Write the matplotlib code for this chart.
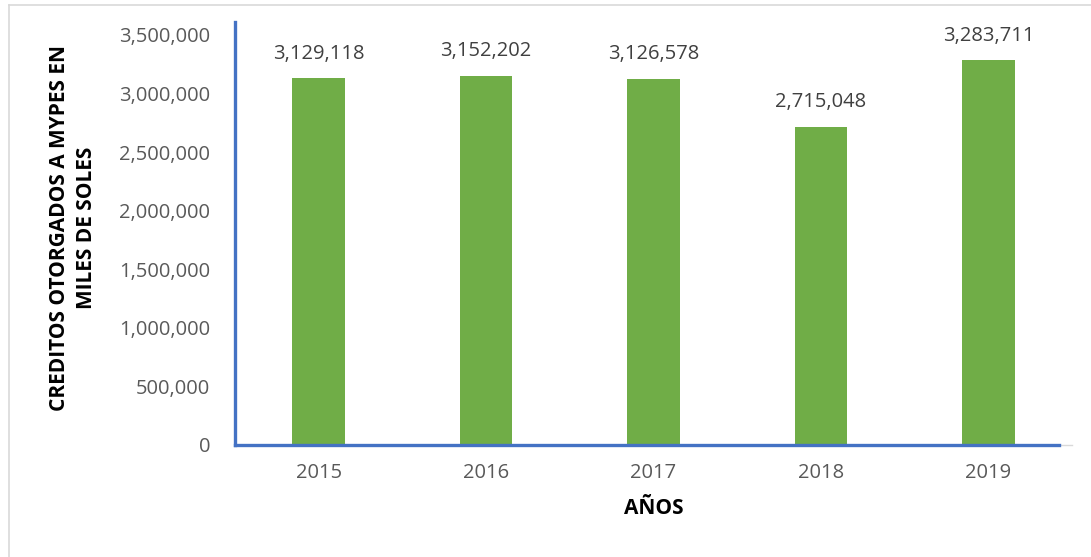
import matplotlib.pyplot as plt
from matplotlib.lines import Line2D
from matplotlib.ticker import FuncFormatter

years = ['2015', '2016', '2017', '2018', '2019']
creditos = [3129118, 3152202, 3126578, 2715048, 3283711]
y_ticks = [0, 500000, 1000000, 1500000, 2000000, 2500000, 3000000, 3500000]

BAR_GREEN = '#70AD47'
AXIS_BLUE = '#4472C4'
TICK_GREY = '#595959'

plt.rcParams['font.family'] = ['Open Sans', 'DejaVu Sans']

fig = plt.figure(figsize=(10.91, 5.57), dpi=100)
ax = fig.add_axes([0.2154, 0.2011, 0.7672, 0.7361])

x = range(len(years))
bars = ax.bar(x, creditos, width=0.315, color=BAR_GREEN, zorder=2)
for rect, val in zip(bars, creditos):
    ax.annotate(f'{val:,}', (rect.get_x() + rect.get_width() / 2, val),
                xytext=(0, 10.5), textcoords='offset points',
                ha='center', va='bottom', fontsize=14.5, color='#404040')

ax.set_xlim(-0.5, len(years) - 0.5)
ax.set_ylim(0, 3500000)
ax.set_yticks(y_ticks)
ax.yaxis.set_major_formatter(FuncFormatter(lambda v, p: f'{int(v):,}'))
ax.set_xticks(list(x))
ax.set_xticklabels(years)
ax.tick_params(axis='both', length=0, labelsize=14.5, labelcolor=TICK_GREY)
ax.tick_params(axis='x', pad=13)
ax.tick_params(axis='y', pad=18)

for side in ['top', 'right', 'left']:
    ax.spines[side].set_visible(False)
ax.spines['bottom'].set_color('#D9D9D9')
ax.spines['bottom'].set_linewidth(1)

# blue axis lines drawn on top of the default spines
ax.add_line(Line2D([0, 0.9845], [0, 0], transform=ax.transAxes, color=AXIS_BLUE,
                   lw=2.4, clip_on=False, zorder=4))
ax.add_line(Line2D([0, 0], [0, 1.032], transform=ax.transAxes, color=AXIS_BLUE,
                   lw=2.4, clip_on=False, zorder=4))

ax.set_xlabel('AÑOS', fontsize=15, fontweight='bold', color='black', labelpad=11)
fig.text(0.067, 0.591, 'CREDITOS OTORGADOS A MYPES EN\nMILES DE SOLES', rotation=90,
         ha='center', va='center', fontsize=15, fontweight='bold', linespacing=1.4)

# light chart frame
fig.add_artist(Line2D([0.0083, 1.0], [0.991, 0.991], transform=fig.transFigure,
                      color='#D9D9D9', lw=1.2))
fig.add_artist(Line2D([0.0083, 0.0083], [0.0, 0.991], transform=fig.transFigure,
                      color='#D9D9D9', lw=1.2))

fig.savefig('out.png', dpi=100)
